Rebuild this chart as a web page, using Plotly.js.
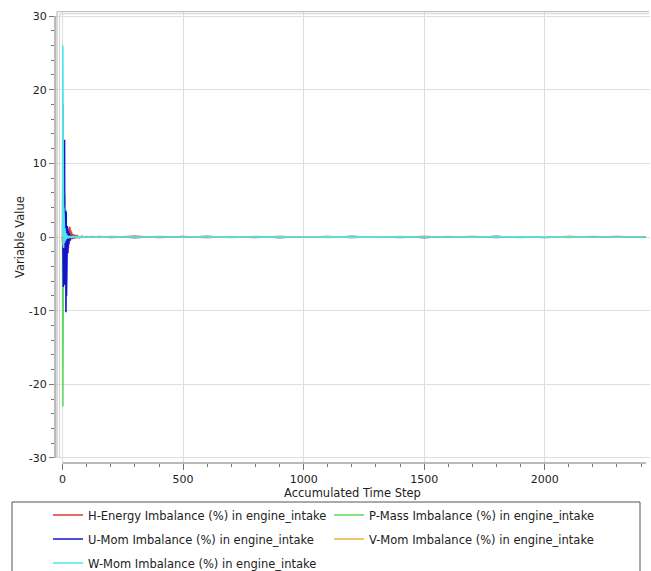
<!DOCTYPE html>
<html>
<head>
<meta charset="utf-8">
<script src="https://cdn.plot.ly/plotly-3.0.1.min.js"></script>
<style>html,body{margin:0;padding:0;background:#fff;}#chart{width:651px;height:571px;}</style>
</head>
<body>
<div id="chart"></div>
<script>
// Accumulated time steps (shared by all series)
var steps = [0,1,2,3,4,5,6,7,8,9,10,11,12,
  13,14,15,16,17,18,20,22,24,26,28,30,
  32,34,36,38,40,43,46,50,55,60,70,80,
  90,100,120,150,200,300,400,500,600,700,800,900,
  1000,1100,1200,1300,1400,1500,1600,1700,1800,1900,2000,2100,
  2200,2300,2400,2420];

var hEnergy = [0,6,18,-3,2,-1.5,1,-0.8,0.5,-0.5,0.4,-0.3,0.6,
  -0.4,0.8,-1.2,1.5,-2.0,1.3,-1.8,1.2,-1.5,1.0,-0.6,1.4,
  -0.5,0.9,-0.3,0.6,-0.3,0.4,-0.2,0.3,-0.15,0.2,-0.1,0.1,
  -0.05,0.05,-0.04,0.06,-0.05,0.08,-0.06,0.05,-0.07,0.04,-0.05,0.06,
  -0.04,0.05,-0.06,0.04,-0.05,0.06,-0.04,0.07,-0.05,0.04,-0.06,0.05,
  -0.04,0.05,-0.03,0.02];

var pMass = [0,-23,-14,-6.7,2,-3,1.5,4,-1.5,5.7,-1,2.5,-0.8,
  1.2,-0.6,0.9,-0.5,0.7,-0.4,0.5,-0.4,0.4,-0.3,0.35,-0.25,
  0.3,-0.2,0.2,-0.15,0.2,-0.1,0.15,-0.1,0.1,-0.08,0.06,-0.05,
  0.04,-0.03,0.05,-0.06,0.07,-0.05,0.06,-0.04,0.05,-0.07,0.06,-0.05,
  0.04,-0.06,0.05,-0.04,0.06,-0.05,0.07,-0.04,0.05,-0.06,0.04,-0.05,
  0.06,-0.04,0.03,-0.02];

var uMom = [0,-1,-2,-6.8,-2.2,-5.5,-2,8,13.2,-3,-6.5,2,-7,
  3.6,-10.2,3.4,-8,2.2,-4,1.5,-2.2,0.8,-1.0,0.5,-0.5,
  0.3,-0.3,0.2,-0.2,0.15,-0.12,0.1,-0.08,0.06,-0.05,0.04,-0.03,
  0.02,-0.02,0.03,-0.04,0.03,-0.05,0.04,-0.03,0.05,-0.04,0.03,-0.05,
  0.04,-0.03,0.05,-0.04,0.03,-0.05,0.04,-0.03,0.05,-0.04,0.03,-0.04,
  0.03,-0.04,0.02,-0.01];

var vMom = [0,1.5,-1.2,0.8,-0.6,0.5,-0.4,0.3,-0.3,0.25,-0.2,0.2,-0.15,
  0.15,-0.12,0.12,-0.1,0.1,-0.08,0.08,-0.06,0.06,-0.05,0.05,-0.04,
  0.04,-0.03,0.03,-0.03,0.02,-0.02,0.02,-0.02,0.01,-0.01,0.01,-0.01,
  0.01,-0.01,0.02,-0.02,0.01,-0.02,0.02,-0.01,0.02,-0.02,0.01,-0.02,
  0.02,-0.01,0.02,-0.02,0.01,-0.02,0.02,-0.01,0.02,-0.02,0.01,-0.02,
  0.01,-0.02,0.01,0.0];

var wMom = [0,26,15.6,7.5,-1.5,4,-1,2,-0.8,1.2,-0.6,0.8,-0.5,
  0.5,-0.4,0.4,-0.3,0.3,-0.2,0.2,-0.15,0.15,-0.1,0.1,-0.08,
  0.08,-0.06,0.06,-0.05,0.05,-0.04,0.04,-0.03,0.03,-0.02,0.02,-0.02,
  0.02,-0.01,0.01,-0.02,0.01,-0.01,0.02,-0.01,0.01,-0.02,0.01,-0.01,
  0.01,-0.02,0.01,-0.01,0.02,-0.01,0.01,-0.02,0.01,-0.01,0.02,-0.01,
  0.01,-0.01,0.01,0.0];

var seriesNames = [
  'H-Energy Imbalance (%) in engine_intake',
  'P-Mass Imbalance (%) in engine_intake',
  'U-Mom Imbalance (%) in engine_intake',
  'V-Mom Imbalance (%) in engine_intake',
  'W-Mom Imbalance (%) in engine_intake'
];
var seriesData = [hEnergy, pMass, uMom, vMom, wMom];
var seriesColors = ['#e03838', '#5fd95f', '#1414c8', '#e8b430', '#4fe3ee'];
var legendIds = ['legend', 'legend2', 'legend3', 'legend4', 'legend5'];

var xTickVals = [0, 500, 1000, 1500, 2000];
var yTickVals = [-30, -20, -10, 0, 10, 20, 30];
var xTitle = 'Accumulated Time Step';
var yTitle = 'Variable Value';

var FONT = 'DejaVu Sans, Verdana, sans-serif';

var traces = seriesData.map(function (vals, i) {
  return {
    x: steps, y: vals, type: 'scatter', mode: 'lines',
    name: seriesNames[i],
    line: {color: seriesColors[i], width: 1.6},
    legend: legendIds[i]
  };
});

// plot area pixel geometry helpers (margins)
var ML = 55, MR = 1, MT = 11, MB = 108, W = 651, H = 571;
var PW = W - ML - MR, PH = H - MT - MB;
function px(xp) { return (xp - ML) / PW; }
function py(yp) { return (H - MB - yp) / PH; }

function legendBox(x, y) {
  return {
    x: px(x), y: py(y), xanchor: 'left', yanchor: 'middle',
    xref: 'paper', yref: 'paper',
    bgcolor: 'rgba(0,0,0,0)', borderwidth: 0,
    font: {family: FONT, size: 11.5, color: '#222'}
  };
}

var frameColor = '#b4b4b4';
var shapes = [
  // plot frame (top double, left double, bottom)
  {type: 'line', xref: 'paper', yref: 'paper', x0: px(57), x1: px(649), y0: py(11.7), y1: py(11.7), line: {color: frameColor, width: 1}},
  {type: 'line', xref: 'paper', yref: 'paper', x0: px(59.5), x1: px(649), y0: py(13.8), y1: py(13.8), line: {color: '#d4d4d4', width: 1}},
  {type: 'line', xref: 'paper', yref: 'paper', x0: px(57), x1: px(57), y0: py(11.7), y1: py(457.5), line: {color: frameColor, width: 1}},
  {type: 'line', xref: 'paper', yref: 'paper', x0: px(59.5), x1: px(59.5), y0: py(13.8), y1: py(457.5), line: {color: '#d4d4d4', width: 1}},
  {type: 'line', xref: 'paper', yref: 'paper', x0: px(57), x1: px(649), y0: py(457.5), y1: py(457.5), line: {color: '#dcdcdc', width: 1}},
  // axis lines spanning tick range
  {type: 'line', xref: 'paper', yref: 'y', x0: 0, x1: 0, y0: -30, y1: 30, line: {color: '#777', width: 1}},
  {type: 'line', xref: 'x', yref: 'paper', x0: 0, x1: 2420, y0: 0, y1: 0, line: {color: '#777', width: 1}},
  // legend box
  {type: 'rect', xref: 'paper', yref: 'paper', x0: px(12), x1: px(640), y0: py(502), y1: py(600), line: {color: '#555', width: 1}, fillcolor: 'rgba(0,0,0,0)'}
];

var layout = {
  width: W, height: H,
  margin: {l: ML, r: MR, t: MT, b: MB, autoexpand: false},
  paper_bgcolor: '#fff', plot_bgcolor: '#fff',
  font: {family: FONT, size: 11, color: '#222'},
  showlegend: true,
  xaxis: {
    range: [-31.5, 2437], tickvals: xTickVals, ticktext: xTickVals.map(String),
    ticks: 'outside', ticklen: 6, tickcolor: '#777', tickwidth: 1,
    minor: {dtick: 100, tick0: 0, ticks: 'outside', ticklen: 3, tickcolor: '#777', showgrid: false},
    showgrid: true, gridcolor: '#dedede', gridwidth: 1, zeroline: false, showline: false,
    tickfont: {family: FONT, size: 11, color: '#222'},
    title: {text: xTitle, font: {family: FONT, size: 11.5, color: '#222'}, standoff: 2},
    automargin: false
  },
  yaxis: {
    range: [-30.68, 30.68], tickvals: yTickVals, ticktext: yTickVals.map(String),
    ticks: 'outside', ticklen: 5, tickcolor: '#777', tickwidth: 1,
    minor: {dtick: 2, tick0: 0, ticks: 'outside', ticklen: 3, tickcolor: '#777', showgrid: false},
    showgrid: true, gridcolor: '#dedede', gridwidth: 1, zeroline: false, showline: false,
    tickfont: {family: FONT, size: 11, color: '#222'},
    title: {text: yTitle, font: {family: FONT, size: 11.5, color: '#222'}, standoff: 1},
    automargin: false
  },
  shapes: shapes,
  legend: legendBox(48, 515),
  legend2: legendBox(329, 515),
  legend3: legendBox(48, 539),
  legend4: legendBox(329, 539),
  legend5: legendBox(48, 563)
};

Plotly.newPlot('chart', traces, layout, {displayModeBar: false, staticPlot: true});
</script>
</body>
</html>
